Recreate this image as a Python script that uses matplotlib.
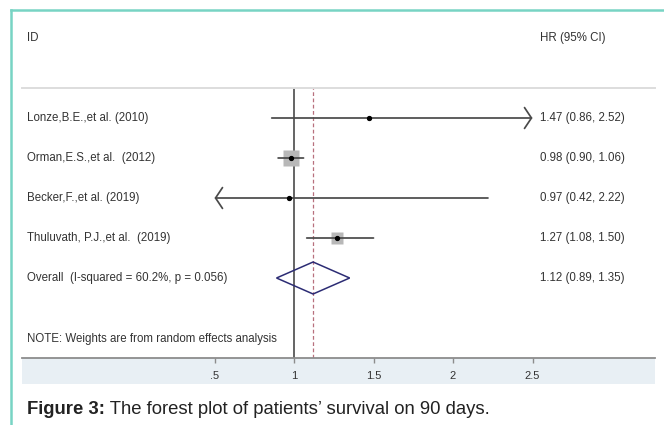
import matplotlib
matplotlib.use("Agg")
import matplotlib.pyplot as plt
from matplotlib.patches import Rectangle, Polygon
from matplotlib.lines import Line2D

# ---------------- data ----------------
studies = ["Lonze,B.E.,et al. (2010)",
           "Orman,E.S.,et al.  (2012)",
           "Becker,F.,et al. (2019)",
           "Thuluvath, P.J.,et al.  (2019)"]
hr = [1.47, 0.98, 0.97, 1.27]
ci_low = [0.86, 0.90, 0.42, 1.08]
ci_high = [2.52, 1.06, 2.22, 1.50]
weights = [2.8, 58.0, 2.2, 37.0]
hr_text = ["1.47 (0.86, 2.52)", "0.98 (0.90, 1.06)",
           "0.97 (0.42, 2.22)", "1.27 (1.08, 1.50)"]
overall_label = "Overall  (I-squared = 60.2%, p = 0.056)"
overall_est, overall_low, overall_high = 1.12, 0.89, 1.35
overall_text = "1.12 (0.89, 1.35)"
note = "NOTE: Weights are from random effects analysis"
xticks = [0.5, 1, 1.5, 2, 2.5]
xticklabels = [".5", "1", "1.5", "2", "2.5"]
x_min_disp, x_max_disp = 0.5, 2.5
caption_bold = "Figure 3:"
caption_rest = " The forest plot of patients\u2019 survival on 90 days."

# ---------------- figure ----------------
W, H = 664, 425
plt.rcParams["font.family"] = ["Liberation Sans", "DejaVu Sans"]
fig = plt.figure(figsize=(W / 100, H / 100), dpi=100)
fig.patch.set_facecolor("white")

def fx(px):
    return px / W

def fy(py):
    return 1 - py / H

# teal frame (left and top)
fig.add_artist(Line2D([fx(11), fx(11)], [fy(10), fy(425)], color="#78d4c4", lw=1.8))
fig.add_artist(Line2D([fx(11), fx(664)], [fy(10), fy(10)], color="#78d4c4", lw=1.8))

# light band under the axis
fig.add_artist(Rectangle((fx(22), fy(384)), fx(655) - fx(22), fy(358) - fy(384),
                         facecolor="#e8eff4", edgecolor="none", zorder=0))

ax_left, ax_right, ax_top, ax_bottom = 22, 655, 88, 358
ax = fig.add_axes([fx(ax_left), fy(ax_bottom), fx(ax_right) - fx(ax_left),
                   fy(ax_top) - fy(ax_bottom)])
ax.set_facecolor("none")
scale = 159.0
x0 = 135.0
ax.set_xlim((ax_left - x0) / scale, (ax_right - x0) / scale)
ax.set_ylim(6.0, -0.75)

for s in ["left", "right"]:
    ax.spines[s].set_visible(False)
ax.spines["top"].set_color("#dddddd")
ax.spines["top"].set_linewidth(1.4)
ax.spines["bottom"].set_color("#8c8c8c")
ax.spines["bottom"].set_linewidth(1.3)
ax.set_yticks([])
ax.set_xticks(xticks)
ax.set_xticklabels(xticklabels)
ax.tick_params(axis="x", direction="out", length=3.5, width=1, color="#8c8c8c",
               labelsize=8, labelcolor="#333333", pad=6)

# reference lines
ax.axvline(1, color="#3a3a3a", lw=1.1, zorder=1)
ax.axvline(overall_est, color="#b8707e", lw=0.9, ls=(0, (3, 2)), zorder=1)

line_col = "#4a4a4a"
lab_x = (27 - ax_left) / (ax_right - ax_left)
col_x = (540 - ax_left) / (ax_right - ax_left)
max_w = max(weights)
for i, (est, lo, hi, w) in enumerate(zip(hr, ci_low, ci_high, weights)):
    xl = max(lo, x_min_disp)
    xr = min(hi, x_max_disp)
    left_clip = lo < x_min_disp
    right_clip = hi > x_max_disp
    if left_clip and right_clip:
        style = "<->"
    elif right_clip:
        style = "->"
    elif left_clip:
        style = "<-"
    else:
        style = "-"
    if style != "-":
        style += ",head_length=0.5,head_width=0.75"
    ax.annotate("", xy=(xr, i), xytext=(xl, i),
                arrowprops=dict(arrowstyle=style, color=line_col, lw=1.25,
                                shrinkA=0, shrinkB=0, mutation_scale=10),
                zorder=3)
    side_px = 16.0 * (w / max_w) ** 0.5
    ax.plot(est, i, marker="s", ms=side_px / 1.389, color="#b8b8b8",
            mec="none", zorder=2, linestyle="none")
    ax.plot(est, i, marker="o", ms=2.8, color="black", zorder=4, linestyle="none")
    ax.text(lab_x, i, studies[i], transform=ax.get_yaxis_transform(),
            fontsize=8.3, color="#333333", va="center", ha="left")
    ax.text(col_x, i, hr_text[i], transform=ax.get_yaxis_transform(),
            fontsize=8.3, color="#333333", va="center", ha="left")

# overall diamond
yo = len(hr)
ax.add_patch(Polygon([(overall_low, yo), (overall_est, yo - 0.4),
                      (overall_high, yo), (overall_est, yo + 0.4)],
                     closed=True, fill=False, edgecolor="#2c2c74", lw=1.1, zorder=3))
ax.text(lab_x, yo, overall_label, transform=ax.get_yaxis_transform(),
        fontsize=8.3, color="#333333", va="center", ha="left")
ax.text(col_x, yo, overall_text, transform=ax.get_yaxis_transform(),
        fontsize=8.3, color="#333333", va="center", ha="left")

# note
ax.text(lab_x, (339 - 118) / 40.0, note, transform=ax.get_yaxis_transform(),
        fontsize=8.3, color="#333333", va="center", ha="left")

# headers
fig.text(fx(27), fy(38), "ID", fontsize=8.3, color="#333333", va="center", ha="left")
fig.text(fx(540), fy(38), "HR (95% CI)", fontsize=8.3, color="#333333",
         va="center", ha="left")

# caption
t1 = fig.text(fx(27), fy(414), caption_bold, fontsize=13.3, fontweight="bold",
              color="#222222", va="baseline", ha="left")
fig.canvas.draw()
bb = t1.get_window_extent()
fig.text(bb.x1 / W, fy(414), caption_rest, fontsize=13.3, color="#222222",
         va="baseline", ha="left")

fig.savefig("out.png", dpi=100)
